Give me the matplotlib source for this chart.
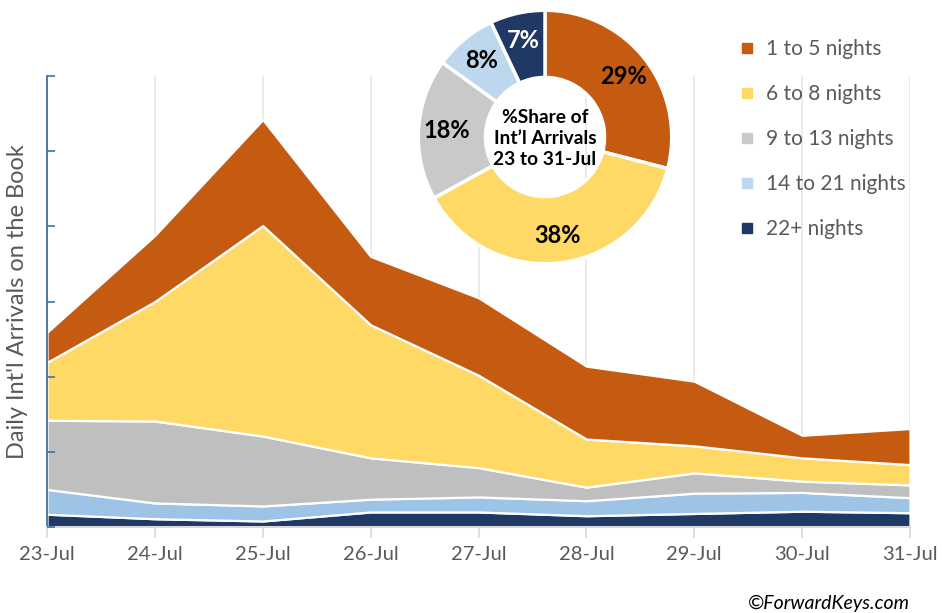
import matplotlib
matplotlib.use("Agg")
import matplotlib.pyplot as plt
from matplotlib.lines import Line2D
import numpy as np

plt.rcParams['font.family'] = ['Lato', 'DejaVu Sans']

dates = ["23-Jul", "24-Jul", "25-Jul", "26-Jul", "27-Jul", "28-Jul", "29-Jul", "30-Jul", "31-Jul"]
series_names = ["22+ nights", "14 to 21 nights", "9 to 13 nights", "6 to 8 nights", "1 to 5 nights"]

# daily arrivals per stay length (index units, stacked bottom to top)
nights_22plus = [1.7, 1.1, 0.8, 2.0, 2.0, 1.5, 1.8, 2.1, 1.9]
nights_14_21 = [3.3, 2.1, 2.0, 1.7, 2.0, 2.0, 2.7, 2.5, 2.0]
nights_9_13 = [9.2, 10.9, 9.3, 5.5, 3.9, 1.8, 2.7, 1.5, 1.7]
nights_6_8 = [7.7, 15.9, 28.0, 17.7, 12.3, 6.4, 3.6, 3.1, 2.7]
nights_1_5 = [4.0, 8.8, 14.1, 9.1, 10.3, 9.7, 8.6, 3.0, 4.8]

# donut shares, clockwise from top
share_labels = ["1 to 5 nights", "6 to 8 nights", "9 to 13 nights", "14 to 21 nights", "22+ nights"]
share_values = [29, 38, 18, 8, 7]

area_colors = ["#203864", "#9DC3E6", "#BFBFBF", "#FFD966", "#C55A11"]
pie_colors = ["#C55A11", "#FFD966", "#C9C9C9", "#BDD7EE", "#203864"]
text_grey = "#595959"

fig = plt.figure(figsize=(9.42, 6.13), dpi=100)
ax = fig.add_axes([47 / 942, 1 - 527 / 613, (910 - 47) / 942, (527 - 76) / 613])

x = np.arange(len(dates))
ax.stackplot(x, nights_22plus, nights_14_21, nights_9_13, nights_6_8, nights_1_5,
             colors=area_colors, edgecolor="white", linewidth=1.6, zorder=3)

ax.set_xlim(0, len(dates) - 1)
ax.set_ylim(0, 60)
ax.set_xticks(x)
ax.set_xticklabels(dates, fontsize=14.5, color=text_grey)
ax.set_yticks(np.arange(0, 61, 10))
ax.set_yticklabels([])
ax.grid(axis="x", color="#E8E8E8", linewidth=1.2)
ax.xaxis.set_zorder(0.5)
ax.yaxis.set_zorder(5)
ax.tick_params(axis="x", direction="out", length=8, width=1.2, color="#D9D9D9", pad=6)
ax.tick_params(axis="y", direction="in", length=6, width=1.2, color="#41719C")
for side in ["top", "right"]:
    ax.spines[side].set_visible(False)
ax.spines["left"].set_color("#41719C")
ax.spines["left"].set_linewidth(1.3)
ax.spines["left"].set_zorder(5)
ax.spines["bottom"].set_color("#D9D9D9")
ax.spines["bottom"].set_linewidth(1.5)
ax.spines["bottom"].set_zorder(5)
ax.set_ylabel("Daily Int'l Arrivals on the Book", fontsize=17, color=text_grey, labelpad=10)

# donut of overall share
pax = fig.add_axes([(545 - 128) / 942, 1 - (137 + 128) / 613, 256 / 942, 256 / 613])
wedges, texts, autotexts = pax.pie(share_values, colors=pie_colors, startangle=90, counterclock=False,
                                   radius=1, autopct=lambda p: f"{p:.0f}%", pctdistance=0.78,
                                   wedgeprops=dict(width=0.53, edgecolor="white", linewidth=2.5))
for t, c in zip(autotexts, pie_colors):
    t.set_fontsize(17)
    t.set_fontweight("bold")
    t.set_color("white" if c == "#203864" else "black")
pax.text(0, -0.01, "%Share of\nInt\u2019l Arrivals\n23 to 31-Jul", ha="center", va="center",
         fontsize=13.8, fontweight="bold", linespacing=1.3)
pax.set_xlim(-1.01, 1.01)
pax.set_ylim(-1.01, 1.01)
pax.set_aspect("equal")

handles = [Line2D([], [], marker="s", linestyle="none", markersize=7, color=c) for c in pie_colors]
fig.legend(handles, share_labels, loc="upper left", bbox_to_anchor=(729 / 942, 1 - 29 / 613),
           frameon=False, fontsize=15, labelcolor=text_grey, handlelength=0.7, handletextpad=0.6,
           labelspacing=1.2, borderpad=0)

fig.text(910 / 942, 1 - 603 / 613, "\u00a9ForwardKeys.com", ha="right", va="center",
         fontsize=14, style="italic", color="black")

fig.savefig("out.png", dpi=100)
